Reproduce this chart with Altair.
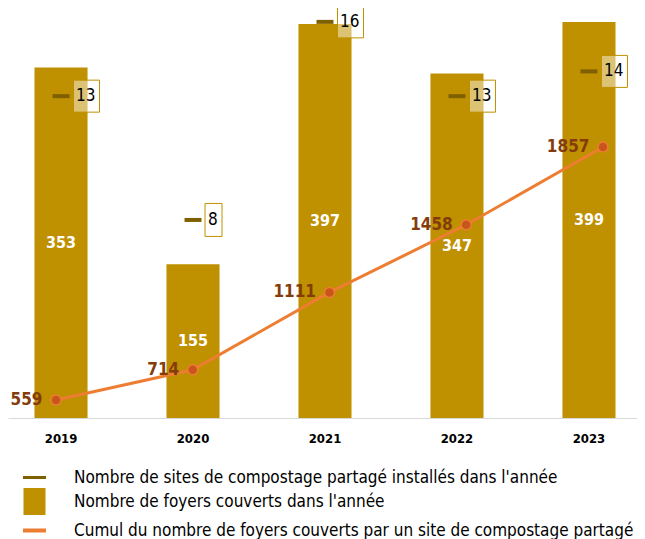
import altair as alt
import pandas as pd

years = ["2019", "2020", "2021", "2022", "2023"]
foyers = [353, 155, 397, 347, 399]
sites = [13, 8, 16, 13, 14]
cumul = [559, 714, 1111, 1458, 1857]

series = [
    "Nombre de sites de compostage partagé installés dans l'année",
    "Nombre de foyers couverts dans l'année",
    "Cumul du nombre de foyers couverts par un site de compostage partagé",
]
series_colors = ["#7F6000", "#BF9000", "#ED7D31"]
series_shapes = [
    "M-0.852,-0.111H0.852V0.111H-0.852Z",
    "M-0.815,-1H0.815V1H-0.815Z",
    "M-0.852,-0.148H0.852V0.148H-0.852Z",
]

df = pd.DataFrame({"annee": years, "foyers": foyers, "sites": sites, "cumul": cumul})
df["mid"] = df["foyers"] / 2
df["ndig"] = df["sites"].astype(str).str.len()
leg = pd.DataFrame({"serie": series})

FONT = "DejaVu Sans Condensed, Liberation Sans, Arial, sans-serif"

xscale = alt.Scale(paddingInner=0.598, paddingOuter=0.1818, align=0.552)
x = alt.X("annee:N", title=None, sort=years, scale=xscale,
          axis=alt.Axis(labelFontSize=13, labelFontWeight="bold", labelColor="#000000",
                        labelFont=FONT, labelAngle=0, ticks=False, tickSize=0, labelPadding=14,
                        domainColor="#D9D9D9", domainWidth=1))
x_noaxis = alt.X("annee:N", title=None, sort=years, scale=xscale, axis=None)
# the cumulative line sits on a secondary horizontal axis, slightly wider
x_line = alt.X("annee:N", title=None, sort=years, axis=None,
               scale=alt.Scale(type="point", padding=0.3, align=0.585))

ybar = alt.Scale(domain=[0, 411], nice=False, zero=True)
ysite = alt.Scale(domain=[0, 16.48], nice=False, zero=True)
ycum = alt.Scale(domain=[466.7, 2560], nice=False, zero=False)

base = alt.Chart(df)

bars = base.mark_bar(color="#BF9000").encode(
    x=x, y=alt.Y("foyers:Q", scale=ybar, axis=None))
bar_lab = base.mark_text(color="white", fontWeight="bold", fontSize=16, font=FONT,
                         baseline="middle").encode(
    x=x, y=alt.Y("mid:Q", scale=ybar, axis=None), text="foyers:Q")
g1 = alt.layer(bars, bar_lab)

ticks = base.mark_tick(color="#7F6000", size=17, thickness=4, opacity=1).encode(
    x=x_noaxis, y=alt.Y("sites:Q", scale=ysite, axis=None))
box1 = base.transform_filter("datum.ndig == 1").mark_point(
    shape="M12,-16.5H29V16.5H12Z", size=4, filled=True, fill="white", fillOpacity=0.45,
    stroke="#BF9000", strokeWidth=1, opacity=1).encode(
    x=x_noaxis, y=alt.Y("sites:Q", scale=ysite, axis=None))
box2 = base.transform_filter("datum.ndig == 2").mark_point(
    shape="M12.5,-16H38.5V16H12.5Z", size=4, filled=True, fill="white", fillOpacity=0.45,
    stroke="#BF9000", strokeWidth=1, opacity=1).encode(
    x=x_noaxis, y=alt.Y("sites:Q", scale=ysite, axis=None))
box_txt = base.mark_text(color="#000000", fontSize=17, font=FONT, align="left",
                         baseline="middle", dx=15).encode(
    x=x_noaxis, y=alt.Y("sites:Q", scale=ysite, axis=None), text="sites:Q")
g2 = alt.layer(ticks, box1, box2, box_txt)

line = base.mark_line(color="#ED7D31", strokeWidth=3).encode(
    x=x_line, y=alt.Y("cumul:Q", scale=ycum, axis=None))
pts = base.mark_point(filled=True, size=100, fill="#C8561C", stroke="#ED7D31",
                      strokeWidth=1.5, opacity=1).encode(
    x=x_line, y=alt.Y("cumul:Q", scale=ycum, axis=None))
cum_lab = base.mark_text(color="#843C0C", fontSize=17, fontWeight="bold", font=FONT,
                         align="right", baseline="middle", dx=-13.5).encode(
    x=x_line, y=alt.Y("cumul:Q", scale=ycum, axis=None), text="cumul:Q")
g3 = alt.layer(line, pts, cum_lab)

# legend-only layer: its own marks sit outside the visible drawing area
legend_layer = alt.Chart(leg).mark_point(filled=True, opacity=1).encode(
    x=alt.value(-200), y=alt.value(-200),
    color=alt.Color("serie:N", sort=series,
                    scale=alt.Scale(domain=series, range=series_colors),
                    legend=alt.Legend(title=None, orient="none", legendX=13, legendY=454,
                                      direction="vertical", symbolSize=729, symbolOpacity=1,
                                      symbolStrokeWidth=0, labelFont=FONT, labelFontSize=17,
                                      labelColor="#000000", labelLimit=0, labelOffset=26,
                                      rowPadding=2, padding=0, symbolOffset=0)),
    shape=alt.Shape("serie:N", sort=series,
                    scale=alt.Scale(domain=series, range=series_shapes)))

chart = alt.layer(g1, g2, g3, legend_layer).resolve_scale(
    x="independent", y="independent").properties(
    width=629, height=408,
    autosize=alt.AutoSizeParams(type="none"),
    padding={"left": 0, "top": 2, "right": 0, "bottom": 123},
).configure_view(stroke=None)

chart.save("out.html", embed_options={"renderer": "svg", "actions": False})
